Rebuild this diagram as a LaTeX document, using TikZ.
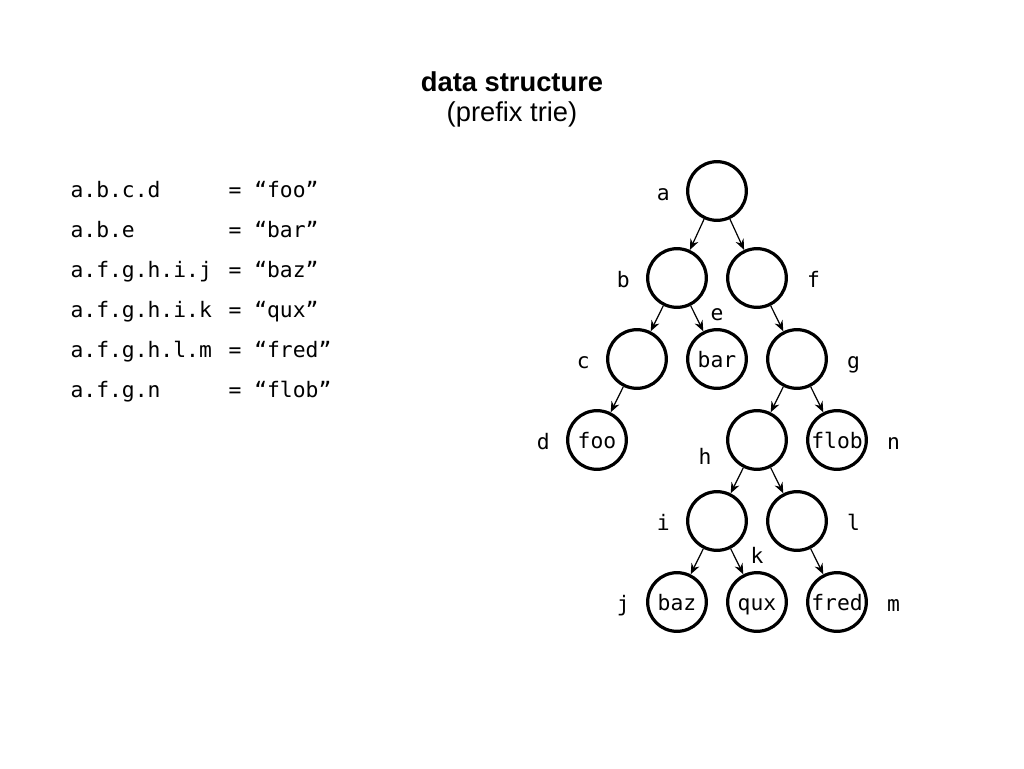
\documentclass[tikz,border=0pt]{standalone}
\usepackage{fontspec}
\setmainfont{Liberation Sans}
\setmonofont{DejaVu Sans Mono}
\usetikzlibrary{shapes}
\usetikzlibrary{arrows.meta}
\tikzset{
	treenode/.style = {
		align=center,
		inner sep=0pt,
		text centered,
		text height=12pt,
		text depth=0pt,
		font=\fontsize{16pt}{19pt}\ttfamily
	},
	node_inner/.style = {
		treenode,
		circle,
		draw=black,
		line width=2.4pt,
		minimum size=44pt
	},
	node_val/.style = {
		node_inner
	},
	key_lab/.style = {
		inner sep=0pt,
		text height=12pt,
		text depth=0pt,
		font=\fontsize{16pt}{19pt}\ttfamily
	},
	lab_l/.style = {label={[key_lab,yshift=-1pt,label distance=11.8pt]left:#1}},
	lab_r/.style = {label={[key_lab,yshift=-1pt,label distance=14pt]right:#1}},
	lab_a/.style = {label={[key_lab,label distance=5.4pt]above:#1}},
	lab_h/.style = {label={[key_lab,label distance=11pt]190:#1}},
	list_text/.style = {
		inner sep=0pt,
		anchor=base west,
		font=\fontsize{16pt}{19pt}\ttfamily
	},
	title_text/.style = {
		inner sep=0pt,
		font=\fontsize{20.5pt}{24pt}\bfseries
	},
	sub_text/.style = {
		inner sep=0pt,
		font=\fontsize{20.5pt}{24pt}\selectfont
	},
}

\begin{document}
\begin{tikzpicture}[x=0.75pt,y=-0.75pt,->,>={Stealth[length=8pt,width=6.5pt]},line width=0.9pt,level/.style={level distance=60.75pt},level 1/.style={level distance=65.25pt},sibling distance=60pt]
\useasboundingbox (0,0) rectangle (1024,768);

% title
\node [title_text] (title) at (512,82) {data structure};
\node [sub_text] (subtitle) at (512,114) {(prefix trie)};

% keys and values
\foreach \k/\v [count=\n] in {a.b.c.d/foo, a.b.e/bar, a.f.g.h.i.j/baz, a.f.g.h.i.k/qux, a.f.g.h.l.m/fred, a.f.g.n/flob} {
	\node [list_text] (key\n) at (70,157+40*\n) {\k};
	\node [list_text] (val\n) at (228,157+40*\n) {= “\v”};
}

% trie
\node [node_inner, lab_l=a] (a) at (717,191) {}
child {
	node [node_inner, lab_l=b] (b) {}
	child {
		node [node_inner, lab_l=c] (c) {}
		child {
			node [node_val, lab_l=d] (d) {foo}
		}
		child [missing]
	}
	child {
		node [node_val, lab_a=e] (e) {bar}
	}
}
child {
	node [node_inner, lab_r=f] (f) {}
	child [missing]
	child {
		node [node_inner, lab_r=g] (g) {}
		child {
			node [node_inner, lab_h=h] (h) {}
			child {
				node [node_inner, lab_l=i] (i) {}
				child {
					node [node_val, lab_l=j] (j) {baz}
				}
				child {
					node [node_val, lab_a=k] (k) {qux}
				}
			}
			child {
				node [node_inner, lab_r=l] (l) {}
				child [missing]
				child {
					node [node_val, lab_r=m] (m) {fred}
				}
			}
		}
		child {
			node [node_val, lab_r=n] (n) {flob}
		}
	}
}
;
\end{tikzpicture}
\end{document}
